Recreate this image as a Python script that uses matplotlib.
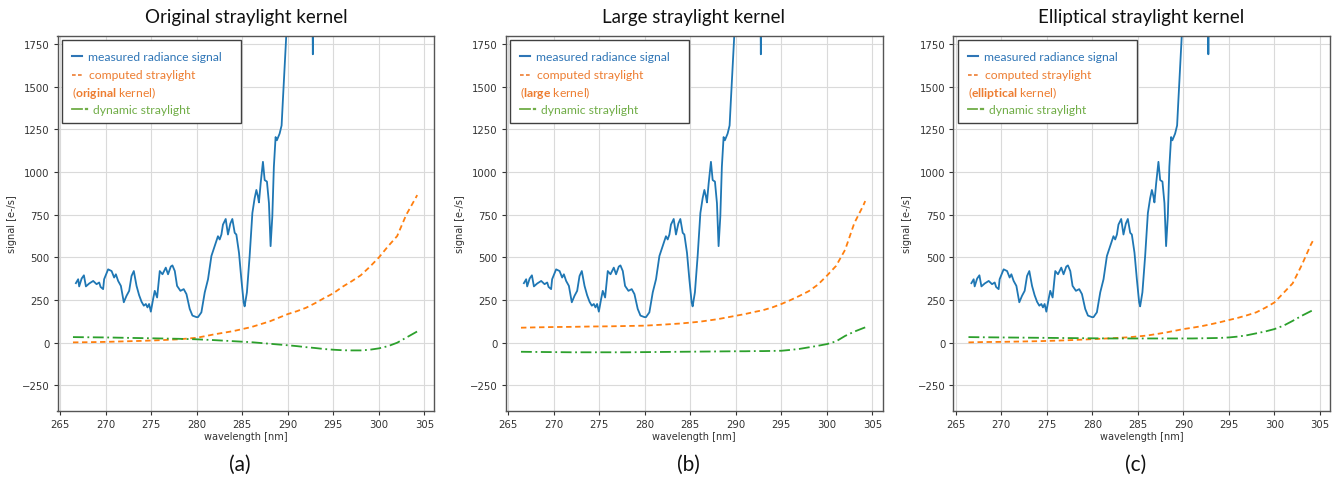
import numpy as np
import matplotlib
matplotlib.use('Agg')
import matplotlib.pyplot as plt
from matplotlib.lines import Line2D
from matplotlib.patches import Rectangle

# ── DATA ──────────────────────────────────────────────────────────────────────
# measured radiance signal (same measurement in all three panels)
wl_meas = [266.72, 266.97, 267.08, 267.35, 267.60, 267.82, 268.18, 268.62, 268.99, 269.28,
           269.43, 269.71, 269.82, 270.26, 270.64, 270.92, 271.11, 271.36, 271.66, 271.98,
           272.28, 272.57, 272.83, 273.08, 273.38, 273.66, 273.93, 274.18, 274.40, 274.58,
           274.76, 274.95, 275.20, 275.38, 275.64, 275.93, 276.23, 276.59, 276.84, 277.14,
           277.32, 277.58, 277.83, 278.20, 278.56, 278.86, 279.22, 279.52, 279.96, 280.13,
           280.50, 280.87, 281.23, 281.60, 281.96, 282.32, 282.51, 282.70, 282.87, 283.17,
           283.42, 283.68, 283.90, 284.16, 284.34, 284.63, 284.89, 285.14, 285.25, 285.50,
           285.80, 286.10, 286.35, 286.54, 286.71, 286.82, 287.01, 287.26, 287.45, 287.70,
           287.92, 288.10, 288.29, 288.46, 288.65, 288.79, 289.09, 289.31, 289.45, 289.90,
           290.50, 291.20, 292.00, 292.60, 292.74, 292.90, 294.00, 296.00, 298.00, 300.00,
           302.00, 304.20]
sig_meas = [349, 372, 330, 376, 395, 330, 347, 362, 343, 353,
            327, 314, 372, 430, 420, 382, 401, 362, 333, 237,
            275, 304, 391, 420, 333, 279, 240, 217, 227, 207,
            227, 182, 256, 304, 265, 420, 401, 440, 401, 446,
            453, 420, 333, 304, 314, 285, 198, 159, 150, 150,
            178, 295, 372, 508, 566, 624, 605, 634, 692, 725,
            634, 698, 725, 644, 634, 527, 372, 237, 213, 295,
            508, 760, 847, 895, 857, 822, 934, 1060, 953, 944,
            818, 566, 740, 1031, 1205, 1186, 1225, 1273, 1420, 1880,
            2400, 2750, 2900, 2600, 1690, 2600, 3000, 3400, 3700, 4000,
            4200, 4300]

# wavelength grid of the modelled straylight curves
wl_model = [266.4, 268, 270, 272, 274, 276, 278, 280, 282, 284, 286, 288, 290, 291,
            292, 293, 294, 295, 296, 297, 298, 299, 300, 301, 302, 303, 304, 304.2]

# (a) original kernel
comp_original = [2, 3, 5, 8, 11, 15, 20, 29, 50, 68, 92, 125, 168, 185,
                 205, 232, 262, 290, 328, 360, 395, 445, 500, 565, 625, 750, 845, 865]
dyn_original = [33, 32, 31, 29, 27, 25, 23, 20, 15, 9, 3, -6, -15, -20,
                -26, -31, -37, -41, -44, -45, -45, -41, -33, -20, 0, 30, 60, 66]

# (b) large kernel
comp_large = [88, 90, 92, 93, 95, 96, 98, 100, 106, 113, 123, 138, 158, 168,
              180, 191, 207, 227, 250, 275, 302, 340, 393, 450, 545, 700, 805, 830]
dyn_large = [-53, -54, -55, -56, -56, -56, -56, -55, -54, -53, -52, -51, -50, -50,
             -49, -49, -48, -47, -42, -36, -27, -18, -8, 8, 40, 65, 86, 90]

# (c) elliptical kernel
comp_elliptical = [2, 4, 5, 7, 9, 12, 16, 21, 26, 32, 42, 59, 80, 88,
                   97, 108, 120, 133, 146, 161, 178, 205, 236, 292, 348, 455, 575, 595]
dyn_elliptical = [33, 32, 31, 30, 29, 28, 27, 26, 25, 25, 25, 25, 25, 25,
                  26, 27, 28, 31, 36, 44, 55, 66, 80, 100, 128, 158, 185, 190]

titles = ['Original straylight kernel', 'Large straylight kernel', 'Elliptical straylight kernel']
kernel_names = ['original', 'large', 'elliptical']
panel_tags = ['(a)', '(b)', '(c)']
computed = [comp_original, comp_large, comp_elliptical]
dynamic = [dyn_original, dyn_large, dyn_elliptical]

# ── STYLE ─────────────────────────────────────────────────────────────────────
plt.rcParams['mathtext.fontset'] = 'custom'
plt.rcParams['mathtext.rm'] = 'Lato'
plt.rcParams['mathtext.bf'] = 'Lato:bold'

LBL_FONT = 'Lato'
C_BLUE, C_ORANGE, C_GREEN = '#1f77b4', '#ff7f0e', '#2ca02c'
T_BLUE, T_ORANGE, T_GREEN = '#2e75b6', '#ed7d31', '#70ad47'

W, H = 1336, 481
fig = plt.figure(figsize=(W / 100, H / 100), dpi=100)

ax_lefts = [57.5, 505.5, 953.0]
ax_w, ax_top, ax_bot = 377.0, 36.5, 412.0

for i in range(3):
    ax = fig.add_axes([ax_lefts[i] / W, (H - ax_bot) / H, ax_w / W, (ax_bot - ax_top) / H])

    ax.plot(wl_meas, sig_meas, color=C_BLUE, lw=1.3)
    ax.plot(wl_model, computed[i], color=C_ORANGE, lw=1.3, ls=(0, (3, 2)))
    ax.plot(wl_model, dynamic[i], color=C_GREEN, lw=1.3, ls=(0, (6, 2, 1, 2)))

    ax.set_xlim(264.7, 306.1)
    ax.set_ylim(-400, 1800)
    ax.set_xticks(np.arange(265, 306, 5))
    ax.set_yticks(np.arange(-250, 1751, 250))
    ax.grid(True, color='#dadada', lw=0.8)
    ax.set_axisbelow(True)
    ax.tick_params(labelsize=7.3, colors='#333333', length=3, width=0.8, pad=2.5)
    for sp in ax.spines.values():
        sp.set_color('#555555')
        sp.set_linewidth(1.0)
    ax.set_xlabel('wavelength [nm]', fontsize=7, color='#333333', labelpad=2)
    ax.set_ylabel('signal [e-/s]', fontsize=7, color='#333333', labelpad=4)

    # legend box drawn by hand so the kernel line can wrap under the handle
    ax.add_patch(Rectangle((0.012, 0.767), 0.475, 0.221, transform=ax.transAxes,
                           facecolor='white', edgecolor='#404040', lw=1.0, zorder=5))
    ax.add_line(Line2D([0.0385, 0.065], [0.945, 0.945], transform=ax.transAxes,
                       color=T_BLUE, lw=1.5, zorder=6))
    ax.add_line(Line2D([0.0385, 0.068], [0.895, 0.895], transform=ax.transAxes,
                       color=T_ORANGE, lw=1.2, ls=(0, (2.2, 1.4)), zorder=6))
    # dash-dot handle: a short solid stroke followed by a dot
    ax.add_line(Line2D([0.0385, 0.064], [0.804, 0.804], transform=ax.transAxes,
                       color=T_GREEN, lw=1.3, zorder=6))
    ax.add_line(Line2D([0.0755, 0.0785], [0.804, 0.804], transform=ax.transAxes,
                       color=T_GREEN, lw=1.6, zorder=6))
    ax.text(0.081, 0.945, 'measured radiance signal', transform=ax.transAxes,
            fontsize=8.7, family=LBL_FONT, color=T_BLUE, va='center', zorder=7)
    ax.text(0.0837, 0.895, 'computed straylight', transform=ax.transAxes,
            fontsize=8.7, family=LBL_FONT, color=T_ORANGE, va='center', zorder=7)
    ax.text(0.0385, 0.850, '($\\mathbf{' + kernel_names[i] + '}$ kernel)', transform=ax.transAxes,
            fontsize=8.7, family=LBL_FONT, color=T_ORANGE, va='center', zorder=7)
    ax.text(0.0943, 0.804, 'dynamic straylight', transform=ax.transAxes,
            fontsize=8.7, family=LBL_FONT, color=T_GREEN, va='center', zorder=7)

    cx = (ax_lefts[i] + ax_w / 2) / W
    fig.text(cx, 1 - 18 / H, titles[i], ha='center', va='center',
             fontsize=13.5, family=LBL_FONT, color='#111111')
    fig.text(cx - 6 / W, 1 - 465 / H, panel_tags[i], ha='center', va='center',
             fontsize=15, family=LBL_FONT, color='#111111')

fig.savefig('out.png', dpi=100)
